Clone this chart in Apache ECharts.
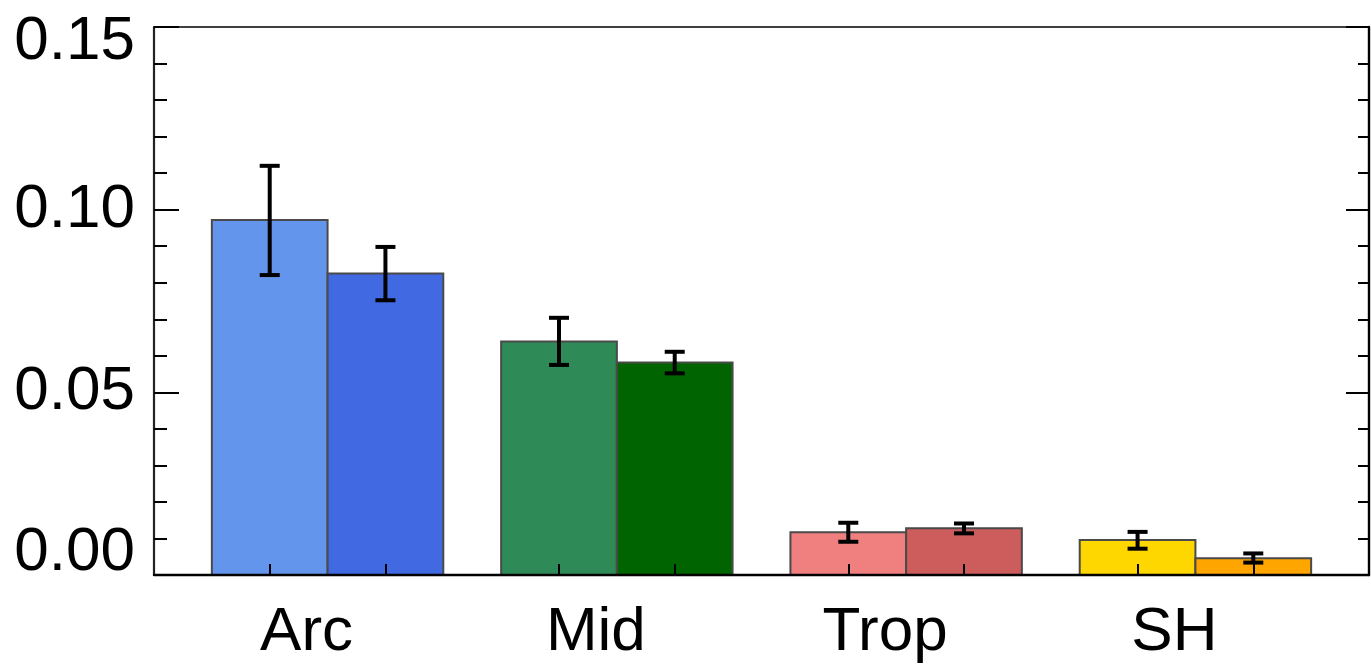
<!DOCTYPE html>
<html>
<head>
<meta charset="utf-8">
<script src="https://cdn.jsdelivr.net/npm/echarts@6/dist/echarts.min.js"></script>
<style>html,body{margin:0;padding:0;background:#fff}#c{width:1371px;height:669px}</style>
</head>
<body>
<div id="c"></div>
<script>
const categories = ['Arc', 'Mid', 'Trop', 'SH'];
const valuesA = [0.0972, 0.0639, 0.0117, 0.0096];
const valuesB = [0.0825, 0.0582, 0.0128, 0.0046];
const lowA = [0.0821, 0.0575, 0.0091, 0.0072];
const highA = [0.1120, 0.0704, 0.0143, 0.0118];
const lowB = [0.0752, 0.0552, 0.0114, 0.0034];
const highB = [0.0898, 0.0611, 0.0141, 0.0059];
const yTicks = [0, 0.05, 0.10, 0.15];

const colorsA = ['#6495ED', '#2E8B57', '#F08080', '#FFD700'];
const colorsB = ['#4169E1', '#006400', '#CD5C5C', '#FFA500'];
const HALF = 0.2;

function barSeries(values, offset, colors) {
  return {
    type: 'custom',
    xAxisIndex: 0, yAxisIndex: 0,
    data: values.map((v, i) => [i + offset, v]),
    z: 2,
    renderItem: (params, api) => {
      const c = api.value(0), v = api.value(1);
      const p0 = api.coord([c - HALF, v]);
      const p1 = api.coord([c + HALF, 0]);
      return {
        type: 'rect',
        shape: { x: p0[0], y: p0[1], width: p1[0] - p0[0], height: p1[1] - p0[1] },
        style: { fill: colors[params.dataIndex], stroke: '#4a4a4a', lineWidth: 2 }
      };
    }
  };
}

function errSeries(lo, hi, offset) {
  return {
    type: 'custom',
    xAxisIndex: 0, yAxisIndex: 0,
    data: lo.map((l, i) => [i + offset, l, hi[i]]),
    z: 5,
    renderItem: (params, api) => {
      const c = api.value(0);
      const a = api.coord([c, api.value(1)]);
      const b = api.coord([c, api.value(2)]);
      const w = 10;
      const st = { stroke: '#000', lineWidth: 4 };
      return {
        type: 'group',
        children: [
          { type: 'line', shape: { x1: a[0], y1: a[1], x2: b[0], y2: b[1] }, style: st },
          { type: 'line', shape: { x1: a[0] - w, y1: a[1], x2: a[0] + w, y2: a[1] }, style: st },
          { type: 'line', shape: { x1: b[0] - w, y1: b[1], x2: b[0] + w, y2: b[1] }, style: st }
        ]
      };
    }
  };
}

const tickPositions = [];
categories.forEach((_, i) => { tickPositions.push(i - HALF, i + HALF); });

const font = '"Liberation Sans", Arial, Helvetica, sans-serif';

const chart = echarts.init(document.getElementById('c'), null, { renderer: 'canvas' });
chart.setOption({
  animation: false,
  backgroundColor: '#fff',
  grid: { left: 154, right: 2, top: 27, bottom: 94, containLabel: false },
  xAxis: [
    {
      type: 'value', min: -0.6, max: 3.6, position: 'bottom', z: 3,
      splitLine: { show: false },
      axisLine: { show: true, onZero: false, lineStyle: { color: '#000', width: 2.4 } },
      axisTick: { show: true, inside: true, length: 11, customValues: tickPositions, lineStyle: { color: '#000', width: 2 } },
      axisLabel: {
        show: true, customValues: [0, 1, 2, 3], margin: 27,
        fontSize: 62, color: '#000', fontFamily: font, padding: [0, 42, 0, 0],
        formatter: v => categories[Math.round(v)]
      }
    },
    {
      type: 'value', min: -0.6, max: 3.6, position: 'top',
      splitLine: { show: false },
      axisLine: { show: true, onZero: false, lineStyle: { color: '#000', width: 1.6 } },
      axisTick: { show: false }, axisLabel: { show: false }
    }
  ],
  yAxis: [
    {
      type: 'value', min: 0, max: 0.15, interval: 0.05, position: 'left', z: 3,
      splitLine: { show: false },
      axisLine: { show: true, onZero: false, lineStyle: { color: '#222', width: 2.2 } },
      axisTick: { show: true, inside: true, length: 25, lineStyle: { color: '#000', width: 2 } },
      minorTick: { show: true, splitNumber: 5, length: 13, lineStyle: { color: '#000', width: 2 } },
      axisLabel: {
        margin: 19, fontSize: 62, color: '#000', fontFamily: font,
        formatter: v => {
          const t = v.toFixed(2);
          if (Math.abs(v - yTicks[yTicks.length - 1]) < 1e-9) return '{hi|' + t + '}';
          if (Math.abs(v - yTicks[0]) < 1e-9) return '{lo|' + t + '}';
          return t;
        },
        rich: {
          hi: { fontSize: 62, fontFamily: font, color: '#000', padding: [30, 0, 0, 0] },
          lo: { fontSize: 62, fontFamily: font, color: '#000', padding: [0, 0, 44, 0] }
        }
      }
    },
    {
      type: 'value', min: 0, max: 0.15, interval: 0.05, position: 'right', z: 3,
      splitLine: { show: false },
      axisLine: { show: true, onZero: false, lineStyle: { color: '#000', width: 2.4 } },
      axisTick: { show: true, inside: true, length: 23, lineStyle: { color: '#000', width: 2 } },
      minorTick: { show: true, splitNumber: 5, length: 11, lineStyle: { color: '#000', width: 2 } },
      axisLabel: { show: false }
    }
  ],
  series: [
    barSeries(valuesA, -HALF, colorsA),
    barSeries(valuesB, HALF, colorsB),
    errSeries(lowA, highA, -HALF),
    errSeries(lowB, highB, HALF)
  ]
});
</script>
</body>
</html>
